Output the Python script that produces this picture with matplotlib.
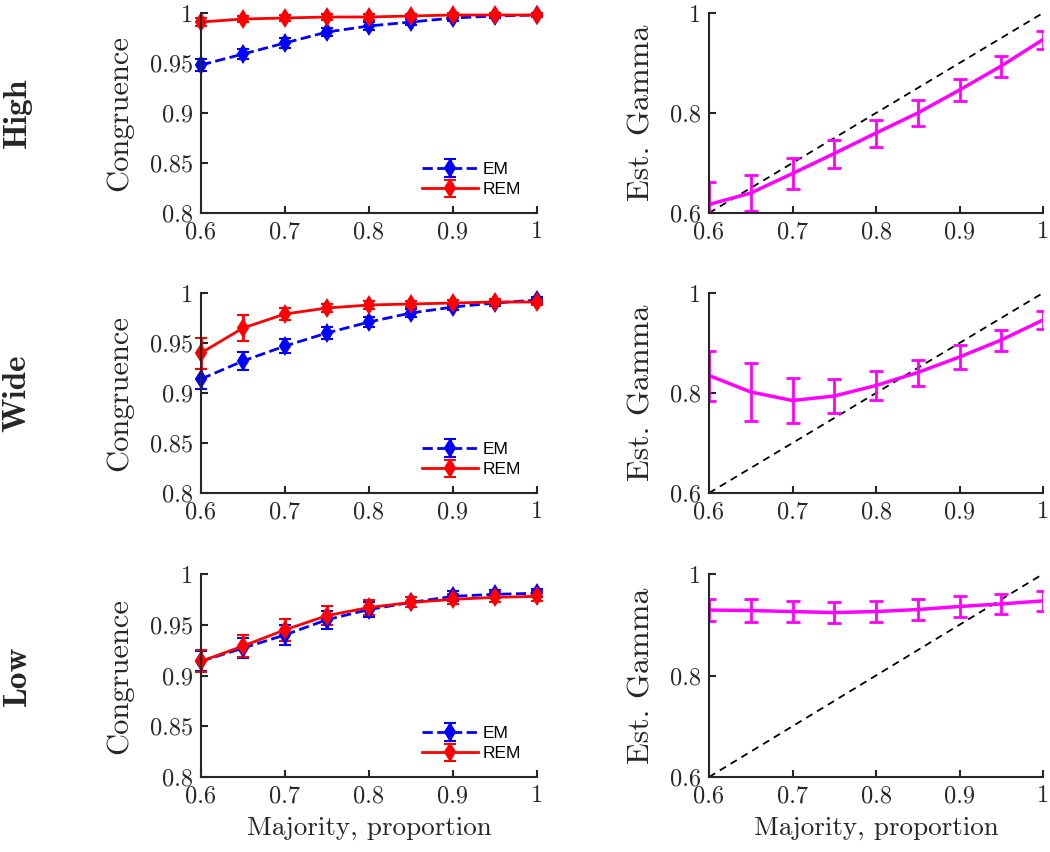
import numpy as np
import matplotlib
matplotlib.use("Agg")
import matplotlib.pyplot as plt

# --- dados ---
majority = [0.6, 0.65, 0.7, 0.75, 0.8, 0.85, 0.9, 0.95, 1.0]
row_names = ["High", "Wide", "Low"]

# Congruence (coluna esquerda)
em_high = [0.948, 0.959, 0.970, 0.981, 0.987, 0.991, 0.995, 0.997, 0.998]
em_high_err = [0.006, 0.005, 0.005, 0.004, 0.004, 0.003, 0.003, 0.002, 0.002]
rem_high = [0.991, 0.994, 0.995, 0.996, 0.996, 0.997, 0.998, 0.998, 0.998]
rem_high_err = [0.004, 0.003, 0.003, 0.003, 0.003, 0.002, 0.002, 0.002, 0.002]

em_wide = [0.914, 0.932, 0.947, 0.960, 0.971, 0.980, 0.986, 0.990, 0.993]
em_wide_err = [0.010, 0.009, 0.007, 0.006, 0.005, 0.004, 0.003, 0.003, 0.003]
rem_wide = [0.940, 0.965, 0.979, 0.985, 0.988, 0.989, 0.990, 0.991, 0.991]
rem_wide_err = [0.0155, 0.013, 0.006, 0.004, 0.004, 0.003, 0.003, 0.003, 0.003]

em_low = [0.914, 0.927, 0.940, 0.955, 0.965, 0.972, 0.978, 0.980, 0.981]
em_low_err = [0.010, 0.010, 0.010, 0.009, 0.007, 0.005, 0.005, 0.004, 0.004]
rem_low = [0.914, 0.929, 0.945, 0.959, 0.967, 0.972, 0.975, 0.977, 0.978]
rem_low_err = [0.011, 0.011, 0.011, 0.009, 0.007, 0.005, 0.005, 0.005, 0.005]

# Est. Gamma (coluna direita)
gam_high = [0.617, 0.640, 0.679, 0.719, 0.760, 0.800, 0.846, 0.894, 0.947]
gam_high_err = [0.045, 0.036, 0.031, 0.028, 0.027, 0.025, 0.022, 0.021, 0.018]
gam_wide = [0.835, 0.802, 0.785, 0.794, 0.815, 0.841, 0.872, 0.906, 0.946]
gam_wide_err = [0.050, 0.057, 0.045, 0.034, 0.029, 0.026, 0.024, 0.021, 0.018]
gam_low = [0.929, 0.928, 0.926, 0.924, 0.926, 0.930, 0.936, 0.941, 0.947]
gam_low_err = [0.022, 0.022, 0.021, 0.021, 0.021, 0.021, 0.021, 0.020, 0.020]

em_all = [(em_high, em_high_err), (em_wide, em_wide_err), (em_low, em_low_err)]
rem_all = [(rem_high, rem_high_err), (rem_wide, rem_wide_err), (rem_low, rem_low_err)]
gam_all = [(gam_high, gam_high_err), (gam_wide, gam_wide_err), (gam_low, gam_low_err)]

# --- estilo ---
plt.rcParams['font.family'] = 'serif'
plt.rcParams['font.serif'] = ['cmr10', 'DejaVu Serif']
plt.rcParams['axes.unicode_minus'] = False

AX_COLOR = (0.15, 0.15, 0.15)

fig = plt.figure(figsize=(10.5, 8.52), dpi=100)

# posicoes em pixels (esquerda, topo, direita, base)
left_col = (201, 537)
right_col = (709, 1043)
rows_px = [(13, 213), (293, 493), (574, 777)]
W, H = 1050, 852


def make_ax(col, row):
    x0, x1 = col
    y0, y1 = row
    return fig.add_axes([x0 / W, 1 - y1 / H, (x1 - x0) / W, (y1 - y0) / H])


def style_ax(ax):
    for s in ['top', 'right']:
        ax.spines[s].set_visible(False)
    for s in ['left', 'bottom']:
        ax.spines[s].set_color(AX_COLOR)
        ax.spines[s].set_linewidth(1.5)
    ax.tick_params(direction='in', length=5, width=1.5, colors=AX_COLOR,
                   labelsize=17.5, labelcolor=AX_COLOR, pad=6)
    ax.set_xlim(0.6, 1.0)
    ax.set_xticks([0.6, 0.7, 0.8, 0.9, 1.0])
    ax.set_xticklabels(['0.6', '0.7', '0.8', '0.9', '1'])


for i in range(3):
    # --- Congruence ---
    ax = make_ax(left_col, rows_px[i])
    em, em_err = em_all[i]
    rem, rem_err = rem_all[i]
    ax.errorbar(majority, em, yerr=em_err, color='blue', ls='--', lw=2,
                marker='d', ms=8, mfc='blue', mec='blue', mew=1.5,
                capsize=4, elinewidth=2, capthick=2, label='EM', clip_on=False)
    ax.errorbar(majority, rem, yerr=rem_err, color='red', ls='-', lw=2,
                marker='d', ms=8, mfc='red', mec='red', mew=1.5,
                capsize=4, elinewidth=2, capthick=2, label='REM', clip_on=False)
    style_ax(ax)
    ax.set_ylim(0.8, 1.0)
    ax.set_yticks([0.8, 0.85, 0.9, 0.95, 1.0])
    ax.set_yticklabels(['0.8', '0.85', '0.9', '0.95', '1'])
    ax.set_ylabel('Congruence', fontsize=22, color=AX_COLOR, labelpad=12)
    leg = ax.legend(loc='lower right', bbox_to_anchor=(1.0, 0.0), frameon=False,
                    prop={'family': 'Liberation Sans', 'size': 12.5},
                    handlelength=3.2, handletextpad=0.3, labelspacing=0.3)
    if i == 2:
        ax.set_xlabel('Majority, proportion', fontsize=19.5, color=AX_COLOR, labelpad=6)

    # rotulo da linha
    y0, y1 = rows_px[i]
    fig.text(17 / W, 1 - (y0 + y1) / 2 / H, row_names[i], rotation=90,
             ha='center', va='center', fontsize=24, color=AX_COLOR,
             family=['cmb10', 'DejaVu Serif'])

    # --- Est. Gamma ---
    ax2 = make_ax(right_col, rows_px[i])
    g, g_err = gam_all[i]
    ax2.plot([0.6, 1.0], [0.6, 1.0], color='black', ls=(0, (4, 3)), lw=1.3)
    ax2.errorbar(majority, g, yerr=g_err, color='magenta', lw=2.5,
                 capsize=5, elinewidth=2, capthick=2)
    style_ax(ax2)
    ax2.set_ylim(0.6, 1.0)
    ax2.set_yticks([0.6, 0.8, 1.0])
    ax2.set_yticklabels(['0.6', '0.8', '1'])
    ax2.set_ylabel('Est. Gamma', fontsize=23, color=AX_COLOR, labelpad=10)
    if i == 2:
        ax2.set_xlabel('Majority, proportion', fontsize=19.5, color=AX_COLOR, labelpad=6)

fig.savefig('out.png', dpi=100)
